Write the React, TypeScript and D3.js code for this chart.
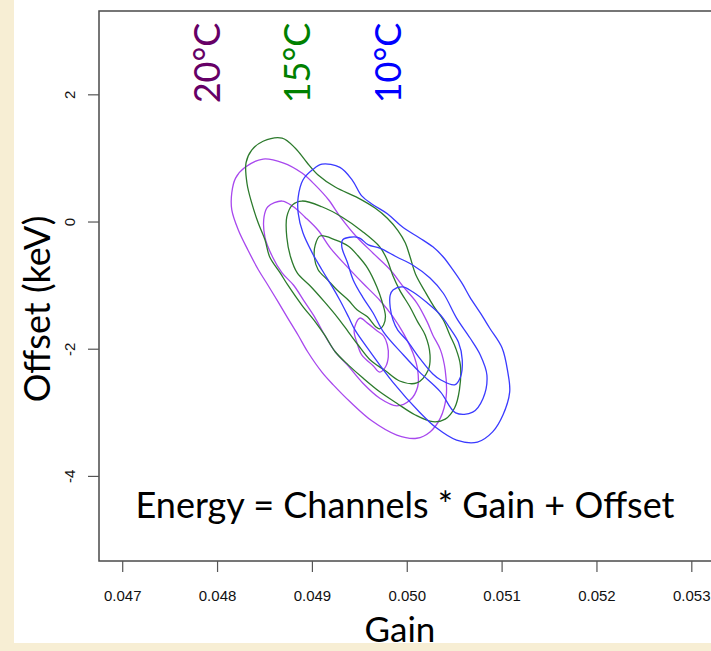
import React from 'react';
import * as d3 from 'd3';

type Pt = [number, number]; // [gain, offset keV]

const GAIN_TICKS = [0.047, 0.048, 0.049, 0.05, 0.051, 0.052, 0.053];
const GAIN_TICK_LABELS = ['0.047', '0.048', '0.049', '0.050', '0.051', '0.052', '0.053'];
const OFFSET_TICKS = [2, 0, -2, -4];
const OFFSET_TICK_LABELS = ['2', '0', '-2', '-4'];

const TEMPERATURES = ['20°C', '15°C', '10°C'];
const TEMPERATURE_LABEL_GAIN = [0.04789, 0.04884, 0.0498];

// 20°C calibration: density contours (outer, middle, inner)
const t20Outer: Pt[] = [
  [0.04848, 0.99], [0.04869, 0.93], [0.04889, 0.77], [0.04903, 0.58], [0.04917, 0.35],
  [0.04929, 0.09], [0.04947, -0.24], [0.04964, -0.49], [0.04982, -0.75], [0.04996, -1.02],
  [0.0501, -1.27], [0.05021, -1.57], [0.05027, -1.78], [0.05035, -2.01], [0.0504, -2.33],
  [0.05041, -2.75], [0.05035, -3.08], [0.05024, -3.3], [0.0501, -3.4], [0.04989, -3.35],
  [0.04963, -3.13], [0.0494, -2.83], [0.04922, -2.56], [0.0491, -2.36], [0.04895, -2.04],
  [0.04885, -1.78], [0.04874, -1.51], [0.04864, -1.26], [0.04853, -0.99], [0.04843, -0.75],
  [0.04832, -0.44], [0.04822, -0.13], [0.04815, 0.19], [0.04815, 0.46], [0.04819, 0.69],
  [0.04829, 0.86],
];
const t20Middle: Pt[] = [
  [0.04868, 0.33], [0.0488, 0.24], [0.04892, 0.08], [0.04906, -0.13], [0.04919, -0.41],
  [0.04937, -0.71], [0.04953, -0.96], [0.04971, -1.23], [0.04985, -1.49], [0.04996, -1.75],
  [0.05006, -2.06], [0.05011, -2.33], [0.05011, -2.59], [0.05003, -2.8], [0.04989, -2.89],
  [0.04971, -2.77], [0.04953, -2.53], [0.04937, -2.25], [0.04924, -2.04], [0.04913, -1.78],
  [0.04903, -1.51], [0.04892, -1.26], [0.0488, -0.99], [0.04868, -0.8], [0.04858, -0.55],
  [0.0485, -0.24], [0.04849, 0.08], [0.04853, 0.24],
];
const t20Inner: Pt[] = [
  [0.0495, -1.51], [0.04958, -1.59], [0.04968, -1.71], [0.04975, -1.79], [0.04979, -1.93],
  [0.0498, -2.12], [0.04977, -2.28], [0.04971, -2.36], [0.04964, -2.26], [0.04952, -2.09],
  [0.04947, -1.9], [0.04944, -1.7],
];

// 15°C calibration
const t15Outer: Pt[] = [
  [0.04848, 1.27], [0.04868, 1.32], [0.04882, 1.16], [0.04894, 0.94], [0.04906, 0.74],
  [0.04924, 0.55], [0.04948, 0.38], [0.04966, 0.22], [0.04979, 0.06], [0.0499, -0.13],
  [0.04998, -0.33], [0.05003, -0.55], [0.05009, -0.83], [0.05019, -1.1], [0.05029, -1.35],
  [0.05038, -1.54], [0.05045, -1.78], [0.05051, -1.98], [0.05056, -2.25], [0.05055, -2.64],
  [0.0505, -2.92], [0.0504, -3.1], [0.05027, -3.14], [0.05008, -3.03], [0.04989, -2.85],
  [0.04971, -2.67], [0.04953, -2.45], [0.04938, -2.25], [0.04924, -2.04], [0.04913, -1.78],
  [0.04903, -1.57], [0.04889, -1.31], [0.04874, -0.99], [0.04866, -0.8], [0.04855, -0.55],
  [0.0485, -0.28], [0.04843, -0.02], [0.04836, 0.3], [0.04831, 0.61], [0.0483, 0.93],
  [0.04836, 1.13],
];
const t15Middle: Pt[] = [
  [0.04889, 0.33], [0.0491, 0.24], [0.04931, 0.08], [0.04952, -0.14], [0.04971, -0.39],
  [0.04979, -0.6], [0.04985, -0.85], [0.04992, -1.07], [0.05003, -1.34], [0.05011, -1.57],
  [0.05019, -1.78], [0.05024, -2.09], [0.05022, -2.33], [0.0501, -2.53], [0.04992, -2.5],
  [0.04977, -2.34], [0.04961, -2.17], [0.04948, -1.93], [0.04938, -1.73], [0.04927, -1.51],
  [0.04913, -1.26], [0.04898, -1.01], [0.04884, -0.8], [0.04877, -0.55], [0.04873, -0.24],
  [0.04873, 0.08], [0.04879, 0.27],
];
const t15Inner: Pt[] = [
  [0.04908, -0.22], [0.04924, -0.28], [0.04938, -0.38], [0.04948, -0.53], [0.04958, -0.72],
  [0.04968, -1.02], [0.04973, -1.23], [0.04977, -1.48], [0.04975, -1.62], [0.04971, -1.68],
  [0.04967, -1.65], [0.04958, -1.49], [0.04947, -1.38], [0.04938, -1.23], [0.04926, -1.07],
  [0.04916, -0.91], [0.04906, -0.75], [0.04902, -0.55], [0.04903, -0.36],
];

// 10°C calibration
const t10Outer: Pt[] = [
  [0.0491, 0.91], [0.04929, 0.86], [0.04942, 0.66], [0.04952, 0.41], [0.04963, 0.28],
  [0.04979, 0.13], [0.04996, -0.09], [0.05013, -0.25], [0.05027, -0.39], [0.05038, -0.55],
  [0.05048, -0.75], [0.05058, -0.97], [0.05066, -1.18], [0.05077, -1.43], [0.05087, -1.67],
  [0.051, -1.98], [0.05106, -2.36], [0.05108, -2.67], [0.05101, -3.03], [0.0509, -3.3],
  [0.05074, -3.46], [0.05052, -3.43], [0.05031, -3.24], [0.05013, -2.99], [0.04985, -2.52],
  [0.04961, -2.04], [0.04945, -1.7], [0.04938, -1.49], [0.04929, -1.23], [0.04921, -1.02],
  [0.0491, -0.75], [0.049, -0.49], [0.0489, -0.17], [0.04885, 0.14], [0.04885, 0.39],
  [0.0489, 0.66], [0.049, 0.82],
];
const t10Middle: Pt[] = [
  [0.04932, -0.28], [0.04948, -0.24], [0.04959, -0.36], [0.04971, -0.41], [0.04989, -0.55],
  [0.05006, -0.68], [0.05024, -0.88], [0.05038, -1.12], [0.05052, -1.51], [0.05066, -1.82],
  [0.05077, -2.09], [0.05084, -2.41], [0.0508, -2.77], [0.05069, -2.99], [0.05051, -3.0],
  [0.05035, -2.67], [0.05013, -2.36], [0.04996, -2.09], [0.04975, -1.73], [0.04964, -1.43],
  [0.04953, -1.18], [0.04943, -0.91], [0.04937, -0.64], [0.04931, -0.39],
];
const t10Inner: Pt[] = [
  [0.04985, -1.07], [0.04995, -1.02], [0.05006, -1.1], [0.05021, -1.27], [0.05035, -1.46],
  [0.05045, -1.67], [0.05054, -1.89], [0.05058, -2.17], [0.05056, -2.44], [0.0505, -2.56],
  [0.05035, -2.48], [0.05027, -2.39], [0.05013, -2.14], [0.05, -1.87], [0.0499, -1.7],
  [0.04985, -1.54], [0.04982, -1.34], [0.04982, -1.15],
];

const CONTOURS_BY_TEMPERATURE: Pt[][][] = [
  [t20Outer, t20Middle, t20Inner],
  [t15Outer, t15Middle, t15Inner],
  [t10Outer, t10Middle, t10Inner],
];

const LINE_COLORS = ['#a848ee', '#2c7a2c', '#3a3aff'];
const TEXT_COLORS = ['#660066', '#008000', '#0000ff'];

const W = 711;
const H = 651;
const PLOT = { left: 99, right: 725, top: 11, bottom: 561 };
const LABEL_FONT = "Lato, 'Open Sans', 'Noto Sans', sans-serif";
const TICK_FONT = "'Liberation Sans', Arial, Helvetica, sans-serif";

export default function App() {
  const x = d3.scaleLinear().domain([0.04675, 0.05335]).range([PLOT.left, PLOT.right]);
  const y = d3.scaleLinear().domain([-5.33, 3.318]).range([PLOT.bottom, PLOT.top]);

  const line = d3
    .line<Pt>()
    .x((d) => x(d[0]))
    .y((d) => y(d[1]))
    .curve(d3.curveCatmullRomClosed.alpha(0.5));

  return (
    <svg
      width={W}
      height={H}
      viewBox={`0 0 ${W} ${H}`}
      style={{ position: 'absolute', left: 0, top: 0, display: 'block' }}
    >
      <defs>
        <clipPath id="plot-clip">
          <rect x={PLOT.left} y={PLOT.top} width={PLOT.right - PLOT.left} height={PLOT.bottom - PLOT.top} />
        </clipPath>
      </defs>
      {/* slide background and white figure card */}
      <rect x={0} y={0} width={W} height={H} fill="#f7eed4" />
      <rect x={14} y={0} width={W - 14} height={643} fill="#ffffff" />

      {/* contour lines */}
      <g clipPath="url(#plot-clip)" fill="none" strokeWidth={1.3} strokeLinejoin="round">
        {CONTOURS_BY_TEMPERATURE.map((levels, i) => (
          <g key={TEMPERATURES[i]} stroke={LINE_COLORS[i]}>
            {levels.map((pts, j) => (
              <path key={j} d={line(pts) ?? ''} />
            ))}
          </g>
        ))}
      </g>

      {/* plot frame */}
      <rect
        x={PLOT.left}
        y={PLOT.top}
        width={PLOT.right - PLOT.left}
        height={PLOT.bottom - PLOT.top}
        fill="none"
        stroke="#4a4a4a"
        strokeWidth={1.5}
      />

      {/* x axis */}
      <g>
        {GAIN_TICKS.map((t, i) => (
          <g key={GAIN_TICK_LABELS[i]}>
            <line x1={x(t)} x2={x(t)} y1={PLOT.bottom} y2={PLOT.bottom + 11} stroke="#555" strokeWidth={1.2} />
            <text
              x={x(t)}
              y={601}
              textAnchor="middle"
              fontFamily={TICK_FONT}
              fontSize={15}
              fill="#111"
            >
              {GAIN_TICK_LABELS[i]}
            </text>
          </g>
        ))}
      </g>

      {/* y axis */}
      <g>
        {OFFSET_TICKS.map((t, i) => (
          <g key={OFFSET_TICK_LABELS[i]}>
            <line x1={PLOT.left - 11} x2={PLOT.left} y1={y(t)} y2={y(t)} stroke="#555" strokeWidth={1.2} />
            <text
              transform={`translate(75,${y(t)}) rotate(-90)`}
              textAnchor="middle"
              fontFamily={TICK_FONT}
              fontSize={15}
              fill="#111"
            >
              {OFFSET_TICK_LABELS[i]}
            </text>
          </g>
        ))}
      </g>

      {/* axis titles */}
      <text x={400} y={642} textAnchor="middle" fontFamily={LABEL_FONT} fontSize={35} fill="#000">
        Gain
      </text>
      <text
        transform="translate(50,309) rotate(-90)"
        textAnchor="middle"
        fontFamily={LABEL_FONT}
        fontSize={36}
        fill="#000"
      >
        Offset (keV)
      </text>

      {/* temperature labels */}
      {TEMPERATURES.map((label, i) => (
        <text
          key={label}
          transform={`translate(${x(TEMPERATURE_LABEL_GAIN[i]) + 13},63) rotate(-90)`}
          textAnchor="middle"
          fontFamily={LABEL_FONT}
          fontSize={36}
          fill={TEXT_COLORS[i]}
        >
          {label}
        </text>
      ))}

      {/* calibration relation */}
      <text x={405} y={518} textAnchor="middle" fontFamily={LABEL_FONT} fontSize={36} fill="#000">
        Energy = Channels * Gain + Offset
      </text>
    </svg>
  );
}
